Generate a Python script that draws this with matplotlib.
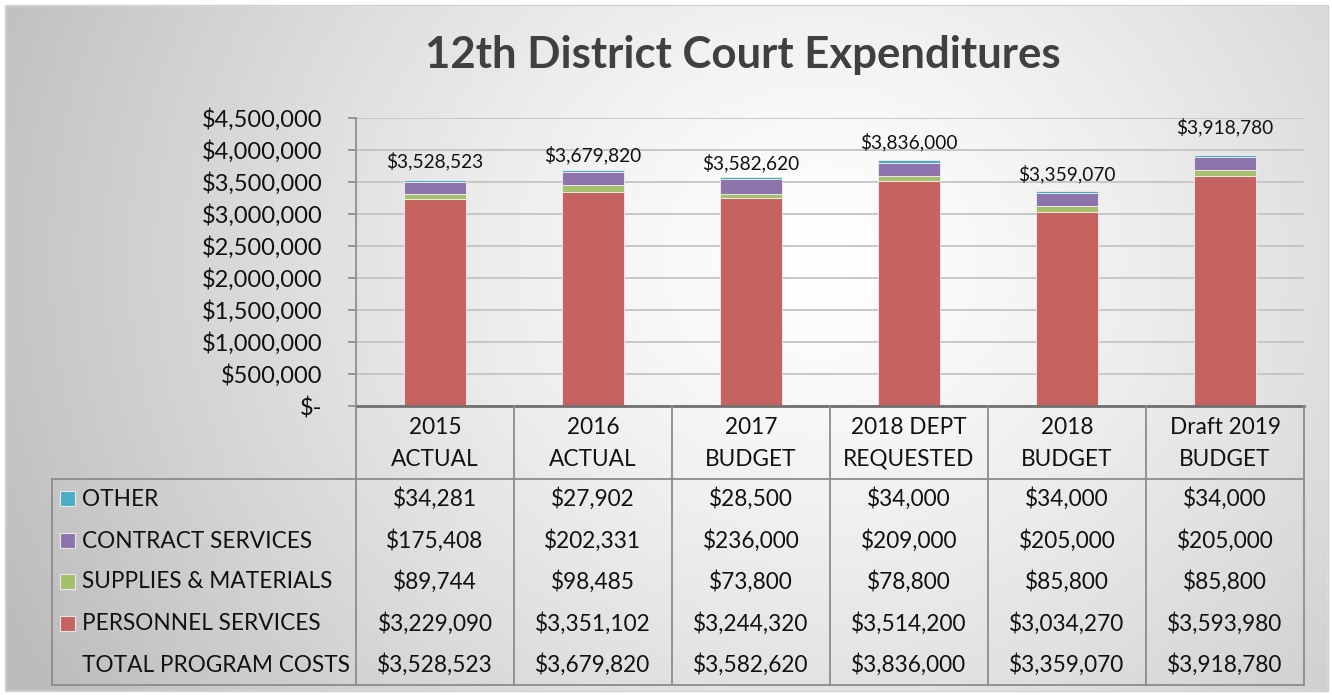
import numpy as np
import matplotlib
matplotlib.use("Agg")
import matplotlib.pyplot as plt
from matplotlib.patches import Rectangle
from matplotlib.ticker import FuncFormatter

plt.rcParams['font.family'] = ['Lato', 'DejaVu Sans']

# ---------------- data ----------------
categories = ["2015\nACTUAL", "2016\nACTUAL", "2017\nBUDGET",
              "2018 DEPT\nREQUESTED", "2018\nBUDGET", "Draft 2019\nBUDGET"]
series_names = ["OTHER", "CONTRACT SERVICES", "SUPPLIES & MATERIALS", "PERSONNEL SERVICES"]
other = [34281, 27902, 28500, 34000, 34000, 34000]
contract = [175408, 202331, 236000, 209000, 205000, 205000]
supplies = [89744, 98485, 73800, 78800, 85800, 85800]
personnel = [3229090, 3351102, 3244320, 3514200, 3034270, 3593980]
totals = [3528523, 3679820, 3582620, 3836000, 3359070, 3918780]
total_label = "TOTAL PROGRAM COSTS"
yticks = [0, 500000, 1000000, 1500000, 2000000, 2500000, 3000000, 3500000, 4000000, 4500000]
title = "12th District Court Expenditures"

colors = {"OTHER": "#4BACC6", "CONTRACT SERVICES": "#8E73AC",
          "SUPPLIES & MATERIALS": "#A3C16A", "PERSONNEL SERVICES": "#C6625F"}
label_offsets_pt = [14, 11, 10, 13, 12, 20]

W, H = 1332, 695
fig = plt.figure(figsize=(W / 100, H / 100), dpi=100)

def fx(x):
    return x / W

def fy(y):
    return 1 - y / H

# ---------------- background gradient ----------------
bg = fig.add_axes([0, 0, 1, 1], zorder=-10)
yy, xx = np.mgrid[0:H, 0:W]
r = np.sqrt(((xx - 820) / 1.0) ** 2 + ((yy - 260) / 0.9) ** 2)
t = np.clip(r / 900.0, 0, 1)
val = 1.0 - 0.26 * t ** 1.3
img = np.dstack([val, val, val])
bg.imshow(img, extent=[0, W, H, 0], aspect='auto', interpolation='bilinear')
bg.set_xlim(0, W)
bg.set_ylim(H, 0)
bg.axis('off')
for (x0, y0, w, h) in [(0, 0, W, 5), (0, H - 4, W, 4), (0, 0, 5, H), (W - 4, 0, 4, H)]:
    bg.add_patch(Rectangle((x0, y0), w, h, color='white', zorder=2))
bg.add_patch(Rectangle((5, 5), W - 9, H - 9, fill=False, edgecolor='#d0d0d0', lw=1, zorder=3))

# ---------------- bar axes ----------------
left_px, right_px, top_px, bot_px = 356, 1304, 118, 406
ax = fig.add_axes([fx(left_px), fy(bot_px), fx(right_px - left_px), (bot_px - top_px) / H])
ax.patch.set_alpha(0)
x = np.arange(len(categories))
bw = 0.39
stack_order = [("PERSONNEL SERVICES", personnel), ("SUPPLIES & MATERIALS", supplies),
               ("CONTRACT SERVICES", contract), ("OTHER", other)]
bottom = np.zeros(len(categories))
for name, vals in stack_order:
    ax.bar(x, vals, bw, bottom=bottom, color=colors[name], edgecolor='#f2eeee',
           linewidth=0.6, zorder=3)
    bottom += np.array(vals)

for i, tot in enumerate(totals):
    ax.annotate("${:,.0f}".format(tot), (x[i], tot), xytext=(0, label_offsets_pt[i]),
                textcoords='offset points', ha='center', va='center',
                fontsize=13.8, color='#111111', zorder=5)

ax.set_xlim(-0.5, len(categories) - 0.5)
ax.set_ylim(0, 4500000)
ax.set_yticks(yticks)
ax.yaxis.set_major_formatter(FuncFormatter(lambda v, p: "$-" if v == 0 else "${:,.0f}".format(v)))
ax.tick_params(axis='y', labelsize=17, length=6, width=1.2, color='#888888',
               pad=18, labelcolor='#111111')
ax.set_xticks([])
ax.grid(axis='y', color='#c4c4c4', linewidth=1.3, zorder=0)
for s in ['top', 'right', 'bottom']:
    ax.spines[s].set_visible(False)
ax.spines['left'].set_color('#888888')
ax.spines['left'].set_linewidth(1.2)

# ---------------- title ----------------
fig.text(fx(743), fy(55), title, ha='center', va='center', fontsize=31.5,
         fontweight='bold', color='#404040')

# ---------------- data table ----------------
tb = fig.add_axes([0, 0, 1, 1], zorder=5)
tb.set_xlim(0, W)
tb.set_ylim(H, 0)
tb.axis('off')
tb.patch.set_alpha(0)

ncol = len(categories)
col_w = (right_px - left_px) / ncol
col_edges = [left_px + i * col_w for i in range(ncol + 1)]
header_top, header_bot, table_bot = bot_px, 479, 685
legend_left = 52
line_c = '#8c8c8c'
lw = 1.3

tb.plot([left_px, right_px], [header_top, header_top], color='#707070', lw=2.0)
tb.plot([legend_left, right_px], [header_bot, header_bot], color=line_c, lw=lw)
tb.plot([legend_left, right_px], [table_bot, table_bot], color=line_c, lw=lw)
tb.plot([legend_left, legend_left], [header_bot, table_bot], color=line_c, lw=lw)
for i, xe in enumerate(col_edges):
    tb.plot([xe, xe], [header_top, table_bot], color=line_c, lw=lw)

for i, cat in enumerate(categories):
    cx = (col_edges[i] + col_edges[i + 1]) / 2
    l1, l2 = cat.split("\n")
    tb.text(cx, 427, l1, ha='center', va='center', fontsize=16.3, color='#111111')
    tb.text(cx, 459, l2, ha='center', va='center', fontsize=16.3, color='#111111')

row_names = series_names + [total_label]
row_vals = [other, contract, supplies, personnel, totals]
row_y = [499, 541, 582, 624, 665]
for j, (nm, vals) in enumerate(zip(row_names, row_vals)):
    yc = row_y[j]
    if nm in colors:
        tb.add_patch(Rectangle((60, yc - 8.5), 15, 15, facecolor=colors[nm],
                               edgecolor='#e8e8e8', lw=0.8))
    tb.text(82, yc, nm, ha='left', va='center', fontsize=16.3, color='#111111')
    for i, v in enumerate(vals):
        cx = (col_edges[i] + col_edges[i + 1]) / 2
        tb.text(cx, yc, "${:,.0f}".format(v), ha='center', va='center',
                fontsize=16.3, color='#111111')

fig.savefig("out.png", dpi=100)
